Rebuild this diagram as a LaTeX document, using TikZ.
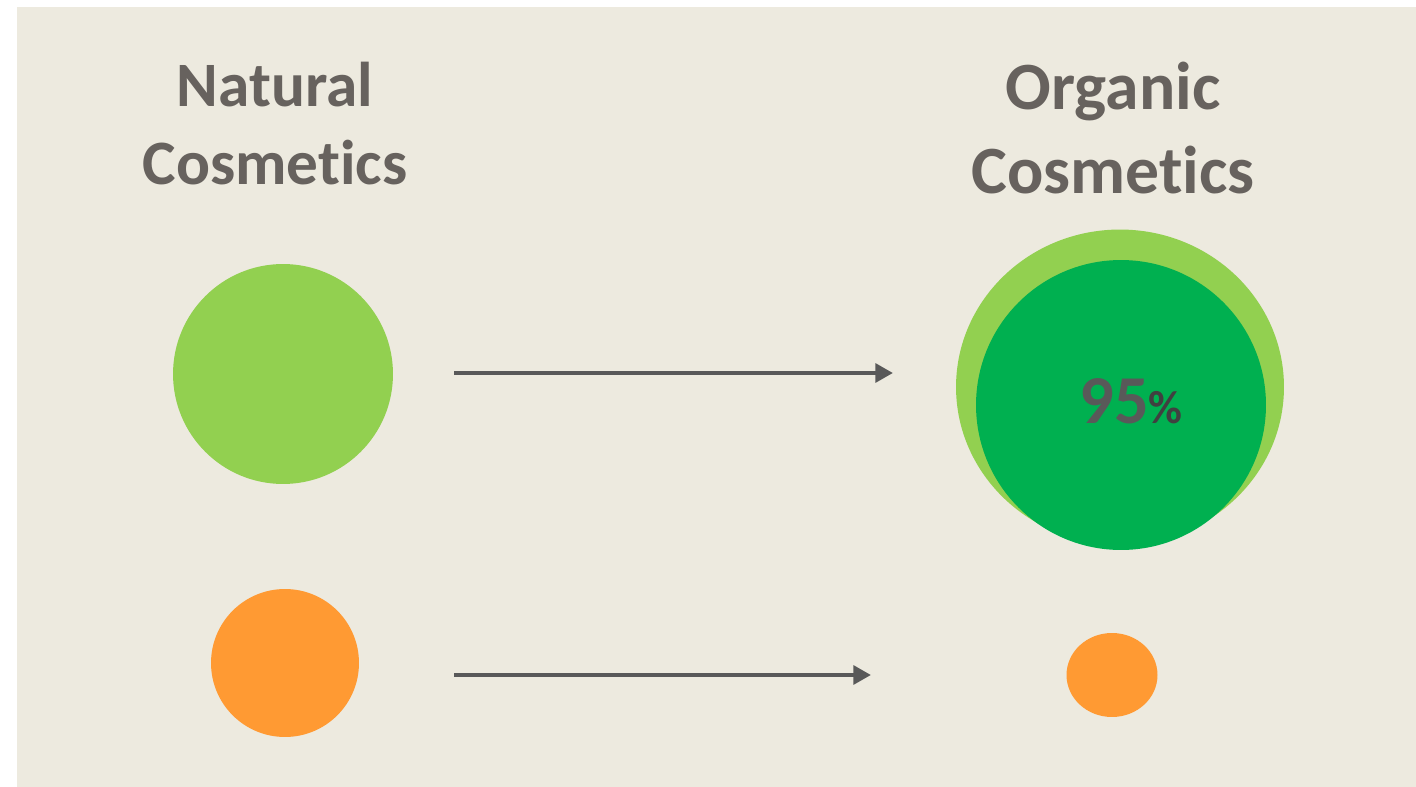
\documentclass[tikz,border=0pt]{standalone}
\usepackage{fontspec}
\setmainfont{Carlito}[Ligatures=NoCommon]
\usetikzlibrary{arrows.meta, shapes.geometric}
\definecolor{bgbeige}{HTML}{EDEADF}
\definecolor{txtgray}{HTML}{67625E}
\definecolor{lightgreen}{HTML}{92D050}
\definecolor{darkgreen}{HTML}{00B050}
\definecolor{orng}{HTML}{FF9A33}
\definecolor{arrgray}{HTML}{595959}
\begin{document}
\begin{tikzpicture}[x=0.02cm, y=-0.02cm,
    title/.style={align=center, text=txtgray, inner sep=0pt, anchor=north},
    blob/.style={circle, inner sep=0pt, draw=none},
    link/.style={arrgray, line width=2.6pt, -{Triangle[length=10pt, width=10.5pt]}}]
    \useasboundingbox (0,0) rectangle (1416,787);
    \fill[bgbeige] (17,7) rectangle (1416,787);
    \node[title, font=\fontsize{36}{44}\selectfont\bfseries] (natural) at (275,62) {Natural\\Cosmetics};
    \node[title, font=\fontsize{38.5}{47.6}\selectfont\bfseries] (organic) at (1113,62) {Organic\\Cosmetics};
    % circles
    \node[blob, fill=lightgreen, minimum size=4.4cm] (natgreen) at (283,374) {};
    \node[blob, fill=orng, minimum size=2.96cm] (natorange) at (285,663) {};
    \node[ellipse, fill=lightgreen, minimum width=6.56cm, minimum height=6.3cm, inner sep=0pt] (orgouter) at (1120,387) {};
    \node[blob, fill=darkgreen, minimum size=5.8cm] (orggreen) at (1121,405) {};
    \node[ellipse, fill=orng, minimum width=1.82cm, minimum height=1.68cm, inner sep=0pt] (orgorange) at (1112,675) {};
    \node[text=arrgray, font=\fontsize{39}{39}\selectfont\bfseries, inner sep=0pt] (pct) at (1131,401)
        {95{\color{black!75}\fontsize{26.5}{26.5}\selectfont\%}};
    % arrows
    \coordinate (a1) at (454,373);
    \coordinate (b1) at (893,373);
    \coordinate (a2) at (454,675);
    \coordinate (b2) at (871,675);
    \draw[link] (a1) -- (b1);
    \draw[link] (a2) -- (b2);
\end{tikzpicture}
\end{document}
